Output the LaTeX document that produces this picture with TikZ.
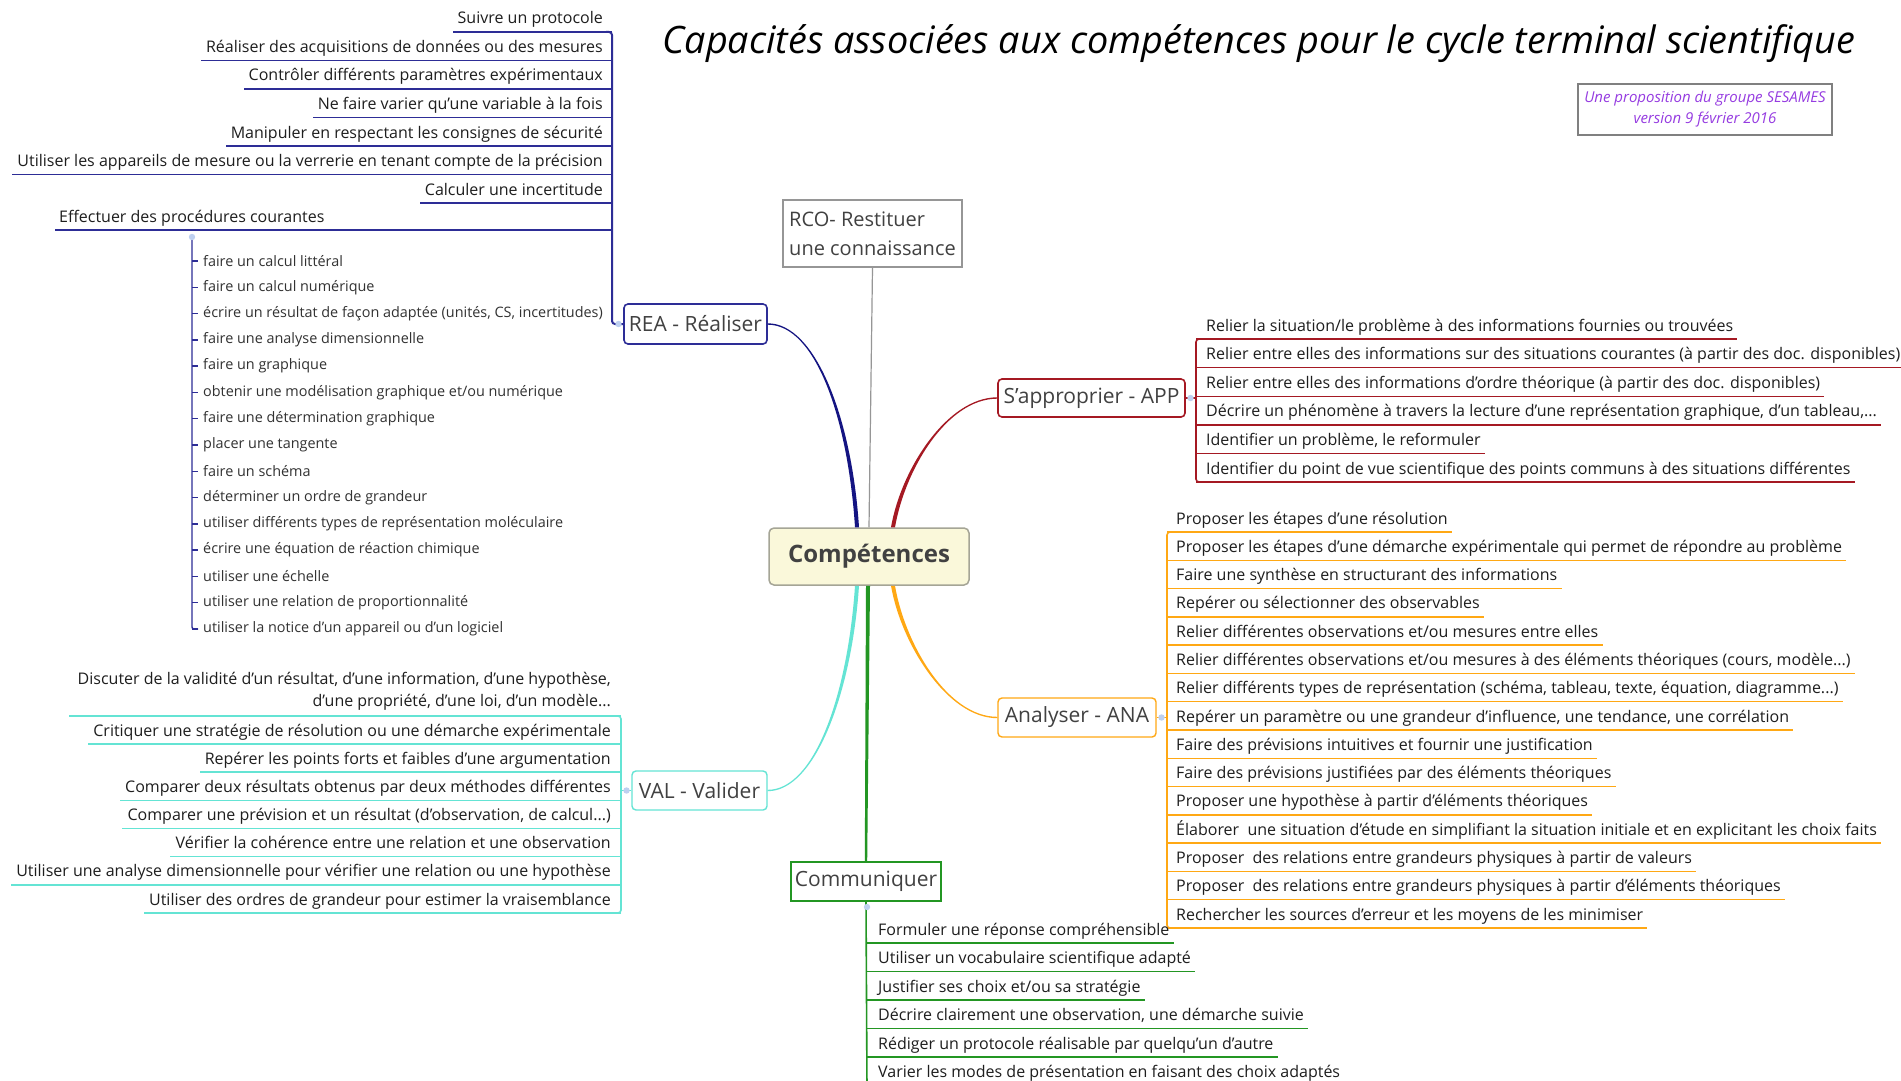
\documentclass[tikz,border=0pt]{standalone}
\usepackage{fontspec}
\setmainfont{Open Sans}
\usetikzlibrary{calc}
\definecolor{reac}{RGB}{45,45,150}
\definecolor{reacon}{RGB}{20,20,130}
\definecolor{appc}{RGB}{165,25,35}
\definecolor{anac}{RGB}{255,168,20}
\definecolor{valc}{RGB}{100,228,212}
\definecolor{comc}{RGB}{35,150,35}
\definecolor{rcoc}{RGB}{150,150,150}
\definecolor{itemtxt}{RGB}{30,30,30}
\definecolor{subtxt}{RGB}{50,50,50}
\definecolor{boxtxt}{RGB}{65,65,65}
\definecolor{compfill}{RGB}{250,248,218}
\definecolor{compdraw}{RGB}{165,165,150}
\definecolor{verc}{RGB}{150,60,225}
\definecolor{dotc}{RGB}{190,208,240}
\newcommand\tdots{.\kern0pt.\kern0pt.}
\begin{document}
\begin{tikzpicture}[x=1pt,y=-1pt,
  itemfont/.style={font=\fontsize{16}{18}\selectfont},
  itemR/.style={itemfont, inner sep=0pt, anchor=base west, text=itemtxt},
  itemL/.style={itemfont, inner sep=0pt, anchor=base east, text=itemtxt},
  subitem/.style={font=\fontsize{14.4}{16}\selectfont, inner sep=0pt, anchor=west, text=subtxt},
  topic/.style={font=\fontsize{21}{24}\selectfont, text=boxtxt, inner sep=2pt, rounded corners=4pt, line width=1.6pt},
  reaul/.style={draw=reac, line width=1.4pt},
  reabr/.style={draw=reac, line width=2pt, rounded corners=3pt},
  appul/.style={draw=appc, line width=1.4pt},
  appbr/.style={draw=appc, line width=1.6pt, rounded corners=3pt},
  anaul/.style={draw=anac, line width=1.4pt},
  anabr/.style={draw=anac, line width=1.6pt, rounded corners=3pt},
  valul/.style={draw=valc, line width=1.4pt},
  valbr/.style={draw=valc, line width=1.6pt, rounded corners=3pt},
  comul/.style={draw=comc, line width=1.4pt},
  combr/.style={draw=comc, line width=1.6pt},
  dotstyle/.style={fill=dotc}
]
\useasboundingbox (0,0) rectangle (1901,1081);
\begin{scope}
\clip (0,0) rectangle (1901,1081);
\fill[white] (0,0) rectangle (1901,1081);

% Title and version
\node[font=\fontsize{37.8}{42}\selectfont\itshape, text=black, inner sep=0pt] (title) at (1259,44) {Capacités associées aux compétences pour le cycle terminal scientifique};
\node[draw=gray, line width=1.5pt, minimum width=254pt, minimum height=51pt, align=center, text=verc, font=\fontsize{15}{21}\selectfont\itshape, inner sep=2pt] (ver) at (1705,109.5) {Une proposition du groupe SESAMES\\version 9 février 2016};

% Central node and topics
\node[draw=compdraw, fill=compfill, line width=1.5pt, rounded corners=5pt, minimum width=200pt, minimum height=57pt, font=\fontsize{24}{28}\selectfont\bfseries, text=boxtxt] (comp) at (869,556.5) {Compétences};
\node[draw=rcoc, line width=1.2pt, minimum width=179pt, minimum height=67pt, align=left, font=\fontsize{20}{29}\selectfont, text=boxtxt, inner sep=2pt] (rco) at (872.5,233.5) {RCO- Restituer\\une connaissance};
\node[topic, draw=reac, minimum width=143pt, minimum height=40pt] (rea) at (695.5,324) {REA - Réaliser};
\node[topic, draw=appc, minimum width=187pt, minimum height=38pt] (app) at (1091.5,398) {S'approprier - APP};
\node[topic, draw=anac, line width=1.4pt, minimum width=158pt, minimum height=39pt] (ana) at (1077,717.5) {Analyser - ANA};
\node[topic, draw=valc, line width=1.4pt, minimum width=135pt, minimum height=39pt] (val) at (699.5,790.5) {VAL - Valider};
\node[topic, draw=comc, rounded corners=0pt, minimum width=150pt, minimum height=39pt] (comm) at (866,881.5) {Communiquer};

% attachment points on the central node
\coordinate (cB) at ($(comp.north)+(-12,0)$);
\coordinate (cR) at ($(comp.north)+(24,0)$);
\coordinate (cC) at ($(comp.south)+(-12,0)$);
\coordinate (cG) at ($(comp.south)+(-1,0)$);
\coordinate (cO) at ($(comp.south)+(24,0)$);

% tapered connectors
\fill[reacon] ($(rea.east)+(0,-0.7)$) .. controls +(48,0) and +(-7,-108) .. ($(cB)+(2,0)$)
  -- ($(cB)+(-2,0)$) .. controls +(-7,-108) and +(48,0) .. ($(rea.east)+(0,0.7)$) -- cycle;
\fill[appc] ($(app.west)+(0,0.7)$) .. controls +(-50,0) and +(10,-58) .. ($(cR)+(2,0)$)
  -- ($(cR)+(-2,0)$) .. controls +(10,-58) and +(-50,0) .. ($(app.west)+(0,-0.7)$) -- cycle;
\fill[anac] ($(ana.west)+(0,0.7)$) .. controls +(-50,0) and +(10,58) .. ($(cO)+(-2,0)$)
  -- ($(cO)+(2,0)$) .. controls +(10,58) and +(-50,0) .. ($(ana.west)+(0,-0.7)$) -- cycle;
\fill[valc] ($(val.east)+(0,-0.7)$) .. controls +(48,0) and +(-7,105) .. ($(cC)+(-2,0)$)
  -- ($(cC)+(2,0)$) .. controls +(-7,105) and +(48,0) .. ($(val.east)+(0,0.7)$) -- cycle;
\fill[comc] ($(cG)+(-2,0)$) -- ($(cG)+(2,0)$) -- ($(comm.north)+(1.2,0)$) -- ($(comm.north)+(-1.2,0)$) -- cycle;
\draw[rcoc, line width=1.2pt] (rco.south) -- (comp.north);

% ---------- REA ----------
\foreach \t [count=\i] in {{Suivre un protocole},{Réaliser des acquisitions de données ou des mesures},{Contrôler différents paramètres expérimentaux},{Ne faire varier qu'une variable à la fois},{Manipuler en respectant les consignes de sécurité},{Utiliser les appareils de mesure ou la verrerie en tenant compte de la précision},{Calculer une incertitude}}{
  \pgfmathsetmacro\u{32+(\i-1)*28.5}
  \node[itemL] (rea\i) at (603,\u-8) {\t};
  \draw[reaul] (612,\u) -- ($(rea\i.base west)+(-5,8)$);
}
\node[itemR] (eff) at (59,222) {Effectuer des procédures courantes};
\draw[reaul] (55,230) -- (612,230);
\draw[reabr] (606,32) -- (612,32) -- (612,324) -- (rea.west);
\fill[dotstyle] (618.5,324) circle (3.2);

\foreach \t [count=\i] in {{faire un calcul littéral},{faire un calcul numérique},{écrire un résultat de façon adaptée (unités, CS, incertitudes)},{faire une analyse dimensionnelle},{faire un graphique},{obtenir une modélisation graphique et/ou numérique},{faire une détermination graphique},{placer une tangente},{faire un schéma},{déterminer un ordre de grandeur},{utiliser différents types de représentation moléculaire},{écrire une équation de réaction chimique},{utiliser une échelle},{utiliser une relation de proportionnalité},{utiliser la notice d'un appareil ou d'un logiciel}}{
  \pgfmathsetmacro\u{261+(\i-1)*26.29}
  \node[subitem] (sub\i) at (203,\u) {\t};
  \draw[reaul] (192,\u) -- (198,\u);
}
\draw[reaul, rounded corners=2pt] (192,237) -- (192,629) -- (198,629);
\fill[dotstyle] (192,237) circle (3.2);

% ---------- APP ----------
\foreach \t [count=\i] in {{Relier la situation/le problème à des informations fournies ou trouvées},{Relier entre elles des informations sur des situations courantes (à partir des doc. disponibles)},{Relier entre elles des informations d'ordre théorique (à partir des doc. disponibles)},{Décrire un phénomène à travers la lecture d'une représentation graphique, d'un tableau,\tdots},{Identifier un problème, le reformuler},{Identifier du point de vue scientifique des points communs à des situations différentes}}{
  \pgfmathsetmacro\u{339+(\i-1)*28.6}
  \node[itemR] (app\i) at (1206,\u-8) {\t};
  \draw[appul] (1196,\u) -- ($(app\i.base east)+(4,8)$);
}
\draw[appbr] (1202,339) -- (1196,339) -- (1196,482) -- (1202,482);
\draw[appbr] (app.east) -- (1196,398);
\fill[dotstyle] (1190.5,398) circle (3.2);

% ---------- ANA ----------
\foreach \t [count=\i] in {{Proposer les étapes d'une résolution},{Proposer les étapes d'une démarche expérimentale qui permet de répondre au problème},{Faire une synthèse en structurant des informations},{Repérer ou sélectionner des observables},{Relier différentes observations et/ou mesures entre elles},{Relier différentes observations et/ou mesures à des éléments théoriques (cours, modèle\tdots)},{Relier différents types de représentation (schéma, tableau, texte, équation, diagramme\tdots)},{Repérer un paramètre ou une grandeur d'influence, une tendance, une corrélation},{Faire des prévisions intuitives et fournir une justification},{Faire des prévisions justifiées par des éléments théoriques},{Proposer une hypothèse à partir d'éléments théoriques},{Élaborer\ \ une situation d'étude en simplifiant la situation initiale et en explicitant les choix faits},{Proposer\ \ des relations entre grandeurs physiques à partir de valeurs},{Proposer\ \ des relations entre grandeurs physiques à partir d'éléments théoriques},{Rechercher les sources d'erreur et les moyens de les minimiser}}{
  \pgfmathsetmacro\u{532+(\i-1)*28.29}
  \node[itemR] (ana\i) at (1176,\u-8) {\t};
  \draw[anaul] (1167,\u) -- ($(ana\i.base east)+(4,8)$);
}
\draw[anabr] (1173,532) -- (1167,532) -- (1167,928) -- (1173,928);
\draw[anabr] (ana.east) -- (1167,717.5);
\fill[dotstyle] (1161.5,717.5) circle (3.2);

% ---------- VAL ----------
\node[inner sep=0pt, anchor=south east, align=right, text=itemtxt, font=\fontsize{16}{22}\selectfont] (val0) at (611,711) {Discuter de la validité d'un résultat, d'une information, d'une hypothèse,\\d'une propriété, d'une loi, d'un modèle\tdots};
\draw[valul] (621,716) -- (69,716);
\foreach \t [count=\i] in {{Critiquer une stratégie de résolution ou une démarche expérimentale},{Repérer les points forts et faibles d'une argumentation},{Comparer deux résultats obtenus par deux méthodes différentes},{Comparer une prévision et un résultat (d'observation, de calcul\tdots)},{Vérifier la cohérence entre une relation et une observation},{Utiliser une analyse dimensionnelle pour vérifier une relation ou une hypothèse},{Utiliser des ordres de grandeur pour estimer la vraisemblance}}{
  \pgfmathsetmacro\u{744+(\i-1)*28.17}
  \node[itemL] (val\i) at (611,\u-8) {\t};
  \draw[valul] (621,\u) -- ($(val\i.base west)+(-5,8)$);
}
\draw[valbr] (615,716) -- (621,716) -- (621,913) -- (615,913);
\draw[valbr] (val.west) -- (621,790.5);
\fill[dotstyle] (626.5,790.5) circle (3.2);

% ---------- Communiquer ----------
\foreach \t [count=\i] in {{Formuler une réponse compréhensible},{Utiliser un vocabulaire scientifique adapté},{Justifier ses choix et/ou sa stratégie},{Décrire clairement une observation, une démarche suivie},{Rédiger un protocole réalisable par quelqu'un d'autre},{Varier les modes de présentation en faisant des choix adaptés}}{
  \pgfmathsetmacro\u{943+(\i-1)*28.5}
  \node[itemR] (com\i) at (878,\u-8) {\t};
  \draw[comul] (867,\u) -- ($(com\i.base east)+(4,8)$);
}
\draw[combr] (comm.south) -- (867,1090);
\fill[dotstyle] (867,907) circle (3.2);
\end{scope}
\end{tikzpicture}
\end{document}
